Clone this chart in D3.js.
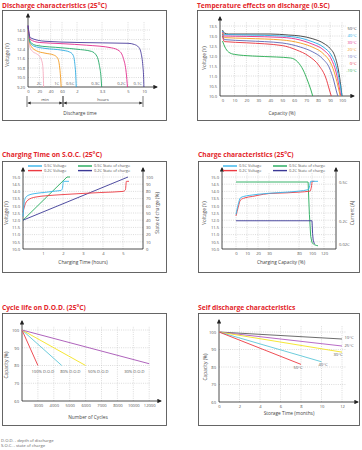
<!DOCTYPE html>
<html>
<head>
<meta charset="utf-8">
<script src="https://d3js.org/d3.v7.min.js"></script>
<style>
    body { margin: 0; background: #fff; }
    text { font-family: "Open Sans", Arial, sans-serif; }
</style>
</head>
<body>
<svg id="chart"></svg>
<script>
    // ---- data ----

    // discharge characteristics: [minutes, volts]
    const dischargeRates = ["2C", "1C", "0.5C", "0.3C", "0.2C", "0.1C"];
    const dischargeTicks = [0, 20, 40, 60, 120, 198, 300, 600];
    const dischargeTickLabels = ["0", "20", "40", "60", "2", "3.3", "5", "10"];
    const dischargeVoltTicks = [14.0, 13.2, 12.4, 11.6, 10.8, 10.0, 9.2];
    const discharge2C = [[0, 14.1], [1, 13.3], [3, 12.6], [8, 12.2], [15, 12.0], [21, 11.75], [24, 11.45], [26, 11.0], [27, 10.2], [27.6, 9.2]];
    const discharge1C = [[0, 14.2], [2, 13.1], [6, 12.6], [15, 12.25], [30, 12.05], [45, 11.9], [52, 11.65], [55.5, 11.0], [57.5, 10.0], [58.5, 9.2]];
    const discharge05C = [[0, 14.3], [3, 13.0], [10, 12.65], [30, 12.45], [60, 12.3], [90, 12.15], [104, 11.9], [111, 11.2], [115, 10.2], [117, 9.2]];
    const discharge03C = [[0, 14.3], [4, 13.0], [15, 12.7], [60, 12.5], [120, 12.38], [165, 12.2], [182, 11.8], [190, 11.0], [195, 10.0], [197, 9.2]];
    const discharge02C = [[0, 14.35], [4, 13.2], [20, 12.95], [60, 12.85], [150, 12.72], [235, 12.5], [265, 12.25], [282, 11.6], [293, 10.4], [298, 9.2]];
    const discharge01C = [[0, 14.4], [4, 13.35], [30, 13.05], [120, 12.95], [300, 12.88], [420, 12.78], [500, 12.55], [548, 12.0], [578, 11.0], [593, 10.0], [598, 9.2]];
    const dischargeSeries = [discharge2C, discharge1C, discharge05C, discharge03C, discharge02C, discharge01C];

    // temperature effects at 0.5C: [capacity %, volts]
    const tempLabels = ["50°C", "40°C", "30°C", "20°C", "10°C", "0°C", "-10°C"];
    const temp50 = [[0, 13.3], [1.5, 13.15], [5, 13.1], [40, 13.1], [55, 13.05], [65, 13.0], [75, 12.87], [85, 12.62], [90, 12.38], [94, 12.0], [97, 11.3], [99, 10.5], [100, 10.0]];
    const temp40 = [[0, 13.25], [1.5, 13.07], [20, 13.05], [50, 13.0], [65, 12.9], [75, 12.72], [85, 12.42], [91, 12.05], [95, 11.5], [98, 10.7], [100, 10.0]];
    const temp30 = [[0, 13.2], [1.5, 13.0], [20, 12.98], [50, 12.93], [65, 12.8], [75, 12.6], [85, 12.28], [91, 11.85], [95, 11.2], [97.5, 10.5], [99, 10.0]];
    const temp20 = [[0, 13.15], [1.5, 12.92], [20, 12.88], [50, 12.8], [65, 12.65], [75, 12.45], [85, 12.08], [90.5, 11.65], [94.5, 11.0], [97, 10.4], [98.5, 10.0]];
    const temp10 = [[0, 13.1], [1.5, 12.82], [20, 12.76], [50, 12.65], [65, 12.45], [75, 12.22], [84, 11.85], [89.5, 11.4], [93, 10.8], [95.5, 10.2], [96.5, 10.0]];
    const temp0 = [[0, 13.0], [1.5, 12.72], [20, 12.66], [50, 12.52], [62, 12.3], [72, 12.0], [81, 11.5], [86.5, 10.9], [89.5, 10.3], [91, 10.0]];
    const tempMinus10 = [[0, 12.75], [2, 12.45], [5, 12.2], [10, 12.08], [25, 12.0], [45, 11.95], [57, 11.9], [63, 11.7], [67.5, 11.3], [71, 10.8], [74, 10.3], [75.5, 10.0]];
    const tempSeries = [temp50, temp40, temp30, temp20, temp10, temp0, tempMinus10];

    // charging time on S.O.C.: [hours, volts] and [hours, % charged]
    const socLegend = ["0.5C Voltage", "0.2C Voltage", "0.5C State of charge", "0.2C State of charge"];
    const socVoltTicks = [10.0, 10.5, 11.0, 11.5, 12.0, 12.5, 13.0, 13.5, 14.0, 14.5, 15.0];
    const socPercentTicks = [0, 10, 20, 30, 40, 50, 60, 70, 80, 90, 100];
    const socHourTicks = [1, 2, 3, 4, 5];
    const socVolt05C = [[0, 12.25], [0.05, 13.1], [0.12, 13.55], [0.3, 13.75], [0.7, 13.87], [1.2, 13.95], [1.6, 14.02], [1.9, 14.07], [1.97, 14.2], [2.02, 14.7], [2.3, 14.7]];
    const socVolt02C = [[0, 12.55], [0.08, 13.0], [0.25, 13.4], [0.6, 13.6], [1.2, 13.7], [2.0, 13.78], [3.0, 13.86], [4.0, 13.93], [5.0, 14.0], [5.12, 14.1], [5.17, 14.7], [5.3, 14.7]];
    const socCharge05C = [[0, 40], [2.2, 100], [2.35, 100]];
    const socCharge02C = [[0, 40], [5.25, 100]];

    // charge characteristics: [capacity %, volts] and [capacity %, current in C]
    const chargeCapTicks = [0, 10, 20, 30, 80, 100, 120];
    const chargeCurrentTicks = [0.5, 0.2, 0.02];
    const chargeVolt05C = [[0, 12.4], [2, 13.1], [4, 13.55], [7, 13.65], [12, 13.72], [20, 13.8], [30, 13.87], [60, 13.95], [80, 14.02], [94, 14.12], [96, 14.3], [98, 14.7], [110, 14.7]];
    const chargeVolt02C = [[0, 12.3], [2, 12.9], [4, 13.4], [8, 13.55], [15, 13.65], [25, 13.8], [30, 13.85], [60, 13.9], [80, 13.95], [97, 14.02], [99, 14.3], [100.5, 14.7], [104, 14.7]];
    const chargeCurrent05C = [[0, 0.5], [94, 0.5], [96, 0.25], [98, 0.08], [100, 0.03], [104, 0.015], [108, 0.008], [110, 0.006]];
    const chargeCurrent02C = [[0, 0.2], [100, 0.2], [101, 0.1], [102, 0.05], [103.5, 0.028], [104.5, 0.022]];

    // cycle life on D.O.D.: [cycles, capacity %]
    const dodLabels = ["100% D.O.D", "80% D.O.D", "50% D.O.D", "30% D.O.D"];
    const cycleTicks = [3000, 4000, 5000, 6000, 7000, 8000, 10000, 12000];
    const capacityTicks = [60, 70, 80, 90, 100];
    const dod100 = [[2000, 100], [3000, 80]];
    const dod80 = [[2000, 100], [4500, 80]];
    const dod50 = [[2000, 100], [6000, 80]];
    const dod30 = [[2000, 100], [12000, 81]];
    const dodSeries = [dod100, dod80, dod50, dod30];

    // self discharge: [months, capacity %]
    const storageLabels = ["10°C", "25°C", "30°C", "40°C", "50°C"];
    const monthTicks = [0, 2, 4, 6, 8, 10, 12];
    const self10 = [[0, 100], [12, 96]];
    const self25 = [[0, 100], [12, 92]];
    const self30 = [[0, 100], [12, 88.5]];
    const self40 = [[0, 100], [10, 83]];
    const self50 = [[0, 100], [8, 81.5]];
    const selfSeries = [self10, self25, self30, self40, self50];

    // ---- drawing ----
    const RED = "#e3262b";
    const GRID = "#b8b8b8";

    const svg = d3.select("#chart").attr("width", 362).attr("height", 450);
    const defs = svg.append("defs");

    defs.append("marker")
        .attr("id", "arrow")
        .attr("viewBox", "0 0 10 10")
        .attr("refX", 8).attr("refY", 5)
        .attr("markerWidth", 4.5).attr("markerHeight", 4.5)
        .attr("markerUnits", "userSpaceOnUse")
        .attr("orient", "auto")
        .append("path").attr("d", "M0,0L10,5L0,10z").attr("fill", "#222");

    defs.append("marker")
        .attr("id", "tip")
        .attr("viewBox", "0 0 10 10")
        .attr("refX", 10).attr("refY", 5)
        .attr("markerWidth", 3.2).attr("markerHeight", 3.2)
        .attr("markerUnits", "userSpaceOnUse")
        .attr("orient", "auto-start-reverse")
        .append("path").attr("d", "M0,0L10,5L0,10z").attr("fill", "#222");

    function box(x0, y0, x1, y1) {
        svg.append("rect")
            .attr("x", x0 + 0.5).attr("y", y0 + 0.5)
            .attr("width", x1 - x0).attr("height", y1 - y0)
            .attr("fill", "none").attr("stroke", "#555").attr("stroke-width", 0.9);
    }

    function heading(txt, x, y) {
        svg.append("text").attr("x", x).attr("y", y).text(txt)
            .attr("font-size", 6.7).attr("font-weight", 700).attr("fill", RED);
    }

    function label(txt, x, y, opts = {}) {
        const t = svg.append("text").text(txt)
            .attr("font-size", opts.size || 4.6)
            .attr("fill", opts.fill || "#444")
            .attr("text-anchor", opts.anchor || "middle");
        if (opts.rotate) {
            t.attr("transform", `translate(${x},${y}) rotate(-90)`);
        } else {
            t.attr("x", x).attr("y", y);
        }
        return t;
    }

    function axisLine(x1, y1, x2, y2, arrow) {
        const l = svg.append("line")
            .attr("x1", x1).attr("y1", y1).attr("x2", x2).attr("y2", y2)
            .attr("stroke", "#222").attr("stroke-width", 0.8);
        if (arrow) l.attr("marker-end", "url(#arrow)");
        return l;
    }

    function hGrid(y, values, x1, x2) {
        svg.append("g").selectAll("line").data(values).join("line")
            .attr("x1", x1).attr("x2", x2)
            .attr("y1", d => y(d)).attr("y2", d => y(d))
            .attr("stroke", GRID).attr("stroke-width", 0.5).attr("stroke-dasharray", "1,1.2");
    }

    function vGrid(x, values, y1, y2) {
        svg.append("g").selectAll("line").data(values).join("line")
            .attr("y1", y1).attr("y2", y2)
            .attr("x1", d => x(d)).attr("x2", d => x(d))
            .attr("stroke", GRID).attr("stroke-width", 0.5).attr("stroke-dasharray", "1,1.2");
    }

    function ticks(axis, pos, transform) {
        const g = svg.append("g").attr("transform", transform).call(axis.tickSize(0).tickPadding(pos));
        g.select(".domain").remove();
        g.selectAll("text").attr("font-size", 4.1).attr("fill", "#555")
            .attr("font-family", "'Open Sans', Arial, sans-serif");
        return g;
    }

    function curve(x, y, pts, color, w = 0.9, smooth = true) {
        const gen = d3.line().x(d => x(d[0])).y(d => y(d[1]));
        if (smooth) gen.curve(d3.curveMonotoneX);
        svg.append("path").datum(pts).attr("d", gen)
            .attr("fill", "none").attr("stroke", color).attr("stroke-width", w)
            .attr("stroke-linejoin", "round");
    }

    function legend(entries, colors, x0, x1, y0) {
        entries.forEach((t, i) => {
            const lx = i < 2 ? x0 : x1, ly = y0 + (i % 2) * 4.6;
            svg.append("line").attr("x1", lx).attr("x2", lx + 14).attr("y1", ly).attr("y2", ly)
                .attr("stroke", colors[i]).attr("stroke-width", 1.4);
            label(t, lx + 16, ly + 1.4, { anchor: "start", size: 3.9, fill: "#555" });
        });
    }

    // ===== 1. Discharge characteristics =====
    box(2, 10, 166, 120);
    heading("Discharge characteristics (25°C)", 2, 7.5);
    {
        const x = d3.scaleLinear().domain(dischargeTicks).range([28, 39.3, 50.7, 62, 77, 102, 128, 144]);
        const y = d3.scaleLinear().domain([9.2, 14.0]).range([87, 30]);
        const colors = ["#f5a9bd", "#f39a1e", "#2aa9e0", "#22a865", "#e22c8c", "#4a3c9c"];
        hGrid(y, dischargeVoltTicks.slice(0, 6), 28, 150);
        vGrid(x, dischargeTicks.slice(1), 87, 22);
        axisLine(28, 87, 28, 14, true);
        axisLine(28, 87, 157, 87, true);
        ticks(d3.axisLeft(y).tickValues(dischargeVoltTicks).tickFormat(d => d === 9.2 ? "9.20" : d.toFixed(1)), 3, "translate(28,0)");
        ticks(d3.axisBottom(x).tickValues(dischargeTicks).tickFormat((d, i) => dischargeTickLabels[i]), 3, "translate(0,87)");
        dischargeSeries.forEach((s, i) => {
            curve(x, y, s, colors[i]);
            label(dischargeRates[i], x(s[s.length - 1][0]) - 2, 85, { anchor: "end", size: 4.1, fill: "#555" });
        });
        // min / hours brackets
        [[x(0) - 1, x(60) + 1, "min"], [x(60) + 1, x(600) - 1, "hours"]].forEach(([a, b, t]) => {
            axisLine(a, 96, a, 107, false).attr("stroke-width", 0.6);
            axisLine(b, 96, b, 107, false).attr("stroke-width", 0.6);
            svg.append("line").attr("x1", a + 0.5).attr("x2", b - 0.5).attr("y1", 103).attr("y2", 103)
                .attr("stroke", "#222").attr("stroke-width", 0.5)
                .attr("marker-start", "url(#tip)").attr("marker-end", "url(#tip)");
            label(t, (a + b) / 2, 100.5, { size: 4.2 });
        });
        label("Discharge time", 80, 115, { size: 4.8 });
        label("Voltage (V)", 9, 55, { rotate: true, size: 4.8 });
    }

    // ===== 2. Temperature effects =====
    box(197, 10, 359, 120);
    heading("Temperature effects on discharge (0.5C)", 197, 7.5);
    {
        const x = d3.scaleLinear().domain([0, 100]).range([222.5, 342]);
        const y = d3.scaleLinear().domain([10, 13.5]).range([96, 26]);
        const colors = ["#3a3a3a", "#22a9e6", "#e22c8c", "#f39a1e", "#5b67b5", "#e8323c", "#22aa4e"];
        const yt = d3.range(10, 13.51, 0.5);
        hGrid(y, yt.slice(1), 220, 346);
        vGrid(x, d3.range(10, 101, 10), 96, 22);
        axisLine(220, 96, 220, 17, true);
        axisLine(220, 96, 354, 96, true);
        ticks(d3.axisLeft(y).tickValues(yt).tickFormat(d3.format(".1f")), 3, "translate(220,0)");
        ticks(d3.axisBottom(x).tickValues(d3.range(0, 101, 10)).tickFormat(d3.format("d")), 3, "translate(0,96)");
        tempSeries.forEach((s, i) => curve(x, y, s, colors[i]));
        tempLabels.forEach((t, i) => label(t, 356.5, 29.5 + i * 7, { anchor: "end", size: 4.1, fill: colors[i] }));
        label("Capacity (%)", 282, 115, { size: 4.8 });
        label("Voltage (V)", 206, 58, { rotate: true, size: 4.8 });
    }

    // ===== 3. Charging time on S.O.C. =====
    box(2, 161, 166, 272);
    heading("Charging Time on S.O.C. (25°C)", 2, 157);
    {
        const x = d3.scaleLinear().domain([0, 6]).range([23, 143]);
        const y = d3.scaleLinear().domain([10, 15]).range([249, 177]);
        const yr = d3.scaleLinear().domain([0, 100]).range([249, 177]);
        const colors = ["#35b4ea", "#ec3a42", "#22aa5a", "#3b3996"];
        hGrid(y, socVoltTicks.slice(1), 23, 143);
        vGrid(x, socHourTicks, 249, 172);
        axisLine(23, 249, 23, 168, true);
        axisLine(143, 249, 143, 168, true);
        axisLine(23, 249, 143, 249, false);
        ticks(d3.axisLeft(y).tickValues(socVoltTicks).tickFormat(d3.format(".1f")), 3, "translate(23,0)");
        ticks(d3.axisRight(yr).tickValues(socPercentTicks).tickFormat(d3.format("d")), 3, "translate(143,0)");
        ticks(d3.axisBottom(x).tickValues(socHourTicks).tickFormat(d3.format("d")), 3.5, "translate(0,249)");
        curve(x, yr, socCharge05C, colors[2], 0.9, false);
        curve(x, yr, socCharge02C, colors[3], 0.9, false);
        curve(x, y, socVolt02C, colors[1]);
        curve(x, y, socVolt05C, colors[0]);
        legend(socLegend, colors, 28, 78, 166);
        label("Charging Time (hours)", 83, 264, { size: 4.8 });
        label("Voltage (V)", 8, 213, { rotate: true, size: 4.8 });
        label("State of charge (%)", 159, 213, { rotate: true, size: 4.8 });
    }

    // ===== 4. Charge characteristics =====
    box(198, 161, 359, 272);
    heading("Charge characteristics (25°C)", 198, 157);
    {
        const x = d3.scaleLinear().domain([-13, 0, 10, 20, 30, 80, 100, 120, 140]).range([222, 236, 247, 258, 269, 299, 312, 324, 336]);
        const y = d3.scaleLinear().domain([10, 15]).range([249, 177]);
        const yr = d3.scaleLinear().domain([0.02, 0.5]).range([244, 182]);
        const colors = ["#35b4ea", "#ec3a42", "#22aa5a", "#3b3996"];
        hGrid(y, socVoltTicks.slice(1), 222, 336);
        vGrid(x, chargeCapTicks, 249, 172);
        axisLine(222, 249, 222, 168, true);
        axisLine(336, 249, 336, 168, true);
        axisLine(222, 249, 336, 249, false);
        ticks(d3.axisLeft(y).tickValues(socVoltTicks).tickFormat(d3.format(".1f")), 3, "translate(222,0)");
        ticks(d3.axisRight(yr).tickValues(chargeCurrentTicks).tickFormat(d => d + "C"), 3, "translate(336,0)");
        ticks(d3.axisBottom(x).tickValues(chargeCapTicks).tickFormat(d3.format("d")), 3.5, "translate(0,249)");
        curve(x, yr, chargeCurrent05C, colors[2], 0.9, false);
        curve(x, yr, chargeCurrent02C, colors[3], 0.9, false);
        curve(x, y, chargeVolt02C, colors[1]);
        curve(x, y, chargeVolt05C, colors[0]);
        legend(socLegend, colors, 223, 273, 166);
        label("Charging Capacity (%)", 281, 264, { size: 4.8 });
        label("Voltage (V)", 206, 213, { rotate: true, size: 4.8 });
        label("Current (A)", 354, 213, { rotate: true, size: 4.8 });
    }

    // ===== 5. Cycle life on D.O.D. =====
    box(2, 313, 166, 425);
    heading("Cycle life on D.O.D. (25°C)", 2, 309.5);
    {
        const dom = [2000].concat(cycleTicks);
        const x = d3.scaleLinear().domain(dom).range(dom.map((d, i) => 22 + i * 15.9));
        const y = d3.scaleLinear().domain([60, 100]).range([401, 330]);
        const colors = ["#ec3a42", "#5cc6d8", "#f4e31f", "#a652b4"];
        hGrid(y, capacityTicks.slice(1), 22, 150);
        vGrid(x, cycleTicks, 401, 326);
        axisLine(22, 401, 22, 321, true);
        axisLine(22, 401, 161, 401, true);
        ticks(d3.axisLeft(y).tickValues(capacityTicks).tickFormat(d3.format("d")), 3, "translate(22,0)");
        ticks(d3.axisBottom(x).tickValues(cycleTicks).tickFormat(d3.format("d")), 3.5, "translate(0,401)");
        dodSeries.forEach((s, i) => curve(x, y, s, colors[i], 0.9, false));
        const labelAt = [2600, 4400, 6150, 8850];
        dodLabels.forEach((t, i) => label(t, x(labelAt[i]), 372.5, { anchor: "start", size: 4.1, fill: "#555" }));
        label("Number of Cycles", 88, 419, { size: 4.8 });
        label("Capacity (%)", 8, 365, { rotate: true, size: 4.8 });
    }

    // ===== 6. Self discharge =====
    box(198, 313, 359, 425);
    heading("Self discharge characteristics", 198, 309.5);
    {
        const x = d3.scaleLinear().domain([0, 12]).range([219, 342]);
        const y = d3.scaleLinear().domain([60, 100]).range([402, 332]);
        const colors = ["#5b5b5b", "#b05bbf", "#f4e31f", "#5cc6d8", "#ec3a42"];
        hGrid(y, capacityTicks.slice(1), 219, 346);
        vGrid(x, monthTicks.slice(1), 402, 326);
        axisLine(219, 402, 219, 320, true);
        axisLine(219, 402, 358, 402, true);
        ticks(d3.axisLeft(y).tickValues(capacityTicks).tickFormat(d3.format("d")), 3, "translate(219,0)");
        ticks(d3.axisBottom(x).tickValues(monthTicks).tickFormat(d3.format("d")), 3.5, "translate(0,402)");
        selfSeries.forEach((s, i) => curve(x, y, s, colors[i], 0.9, false));
        const lx = [349, 349, 338, 323, 298], ly = [339, 347, 355.5, 365.5, 369];
        storageLabels.forEach((t, i) => label(t, lx[i], ly[i], { size: 4.1, fill: "#555" }));
        label("Storage Time (months)", 289, 415, { size: 4.8 });
        label("Capacity (%)", 207, 367, { rotate: true, size: 4.8 });
    }

    label("D.O.D. - depth of discharge", 1, 441.5, { anchor: "start", size: 4.2, fill: "#666" });
    label("S.O.C. - state of charge", 1, 447, { anchor: "start", size: 4.2, fill: "#666" });
</script>
</body>
</html>
